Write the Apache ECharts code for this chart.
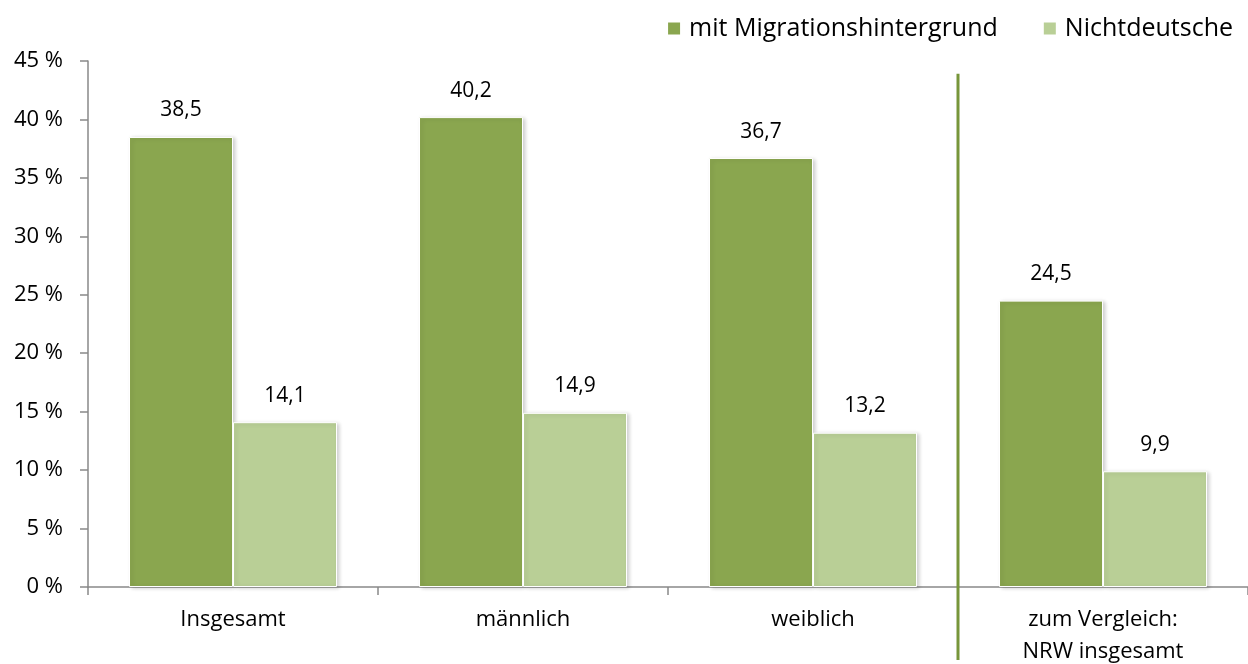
<!DOCTYPE html>
<html>
<head>
<meta charset="utf-8">
<script src="https://cdn.jsdelivr.net/npm/echarts@6/dist/echarts.min.js"></script>
<style>
  html, body { margin: 0; padding: 0; background: #fff; }
  #chart { width: 1248px; height: 664px; }
</style>
</head>
<body>
<div id="chart"></div>
<script>
var categories = ['Insgesamt', 'männlich', 'weiblich', 'zum Vergleich:\nNRW insgesamt'];
var migration = [38.5, 40.2, 36.7, 24.5];
var nichtdeutsche = [14.1, 14.9, 13.2, 9.9];
var yTicks = { min: 0, max: 45, interval: 5 };

var font = 'Open Sans';
var chart = echarts.init(document.getElementById('chart'));

function fmt(v) {
  return String(v.toFixed(1)).replace('.', ',');
}

var barShadow = {
  borderColor: '#fff',
  borderWidth: 1,
  shadowColor: 'rgba(0,0,0,0.18)',
  shadowBlur: 4,
  shadowOffsetX: 2,
  shadowOffsetY: 1
};

var valueLabel = {
  show: true, position: 'top', distance: 16,
  color: '#000', fontSize: 21, fontFamily: font,
  formatter: function (p) { return fmt(p.value); }
};

var option = {
  animation: false,
  textStyle: { fontFamily: font },
  legend: {
    right: 10,
    top: 11,
    itemWidth: 14,
    itemHeight: 14,
    itemGap: 44,
    icon: 'rect',
    textStyle: { fontSize: 25, color: '#000', fontFamily: font, padding: [0, 0, 0, 3] },
    data: ['mit Migrationshintergrund', 'Nichtdeutsche']
  },
  grid: { left: 88, right: 0, top: 61, bottom: 77, containLabel: false, outerBoundsMode: 'none' },
  xAxis: {
    type: 'category',
    data: categories,
    axisLine: { lineStyle: { color: '#898989', width: 1.5 } },
    axisTick: { show: true, length: 8, lineStyle: { color: '#898989', width: 1.5 } },
    axisLabel: { color: '#000', fontSize: 22, margin: 17, lineHeight: 32, fontFamily: font }
  },
  yAxis: {
    type: 'value',
    min: yTicks.min,
    max: yTicks.max,
    interval: yTicks.interval,
    splitLine: { show: false },
    axisLine: { show: true, lineStyle: { color: '#898989', width: 1.5 } },
    axisTick: { show: true, length: 8, lineStyle: { color: '#898989', width: 1.5 } },
    axisLabel: { color: '#000', fontSize: 22, margin: 25, formatter: '{value} %', fontFamily: font }
  },
  series: [
    {
      name: 'mit Migrationshintergrund',
      type: 'bar',
      data: migration,
      barWidth: 104,
      barGap: '0%',
      itemStyle: Object.assign({ color: '#8aa64f' }, barShadow),
      label: valueLabel
    },
    {
      name: 'Nichtdeutsche',
      type: 'bar',
      data: nichtdeutsche,
      barWidth: 104,
      barGap: '0%',
      itemStyle: Object.assign({ color: '#b9cf96' }, barShadow),
      label: valueLabel
    }
  ]
};

chart.setOption(option);

// separator line between "weiblich" and the NRW comparison group
var c2 = chart.convertToPixel({ xAxisIndex: 0 }, 2);
var c3 = chart.convertToPixel({ xAxisIndex: 0 }, 3);
var sepX = (c2 + c3) / 2;
var topY = chart.convertToPixel({ yAxisIndex: 0 }, 43.9);
chart.setOption({
  graphic: [{
    type: 'line',
    shape: { x1: sepX, y1: topY, x2: sepX, y2: 660 },
    style: { stroke: '#77963a', lineWidth: 3 },
    z: 10
  }]
});
</script>
</body>
</html>
